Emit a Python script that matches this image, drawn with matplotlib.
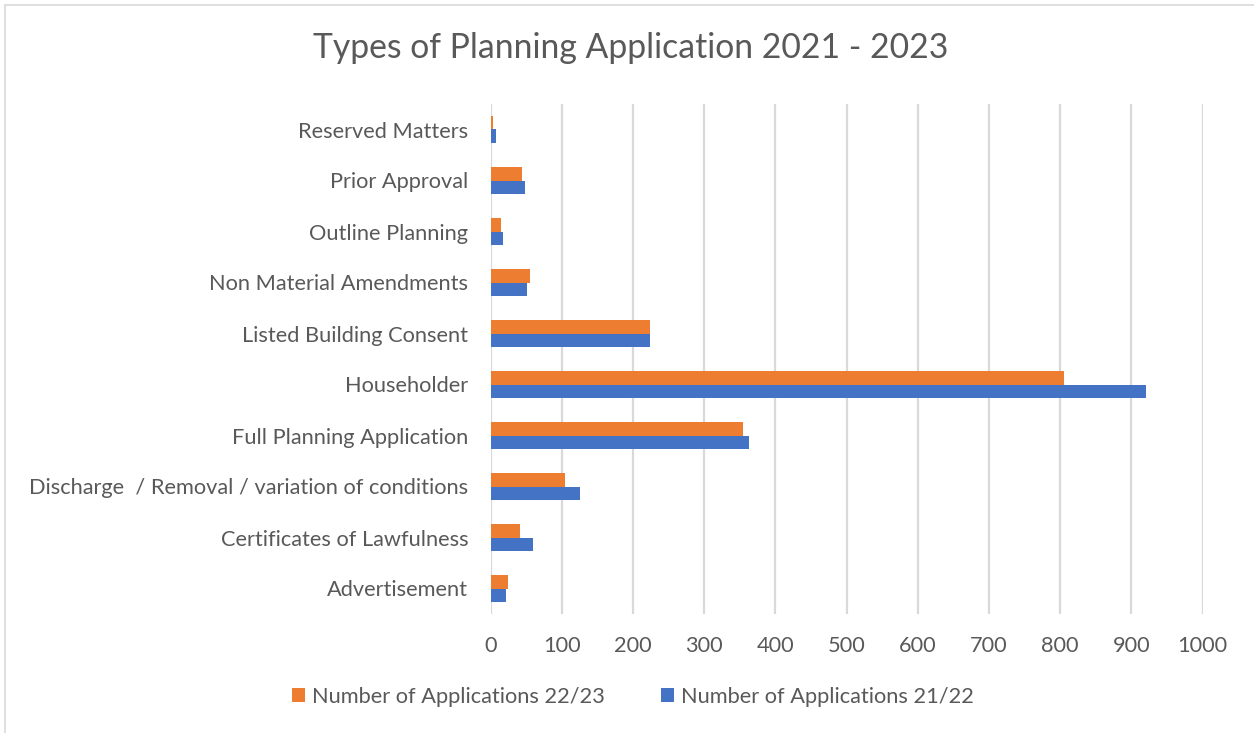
import matplotlib
matplotlib.use("Agg")
import matplotlib.pyplot as plt
from matplotlib.patches import Rectangle
import numpy as np

categories = ["Advertisement", "Certificates of Lawfulness",
              "Discharge  / Removal / variation of conditions",
              "Full Planning Application", "Householder",
              "Listed Building Consent", "Non Material Amendments",
              "Outline Planning", "Prior Approval", "Reserved Matters"]
apps_22_23 = [24, 42, 105, 355, 805, 224, 55, 15, 44, 4]
apps_21_22 = [22, 60, 125, 363, 920, 224, 51, 17, 48, 8]
xticks = [0, 100, 200, 300, 400, 500, 600, 700, 800, 900, 1000]

plt.rcParams['font.family'] = ['Lato', 'DejaVu Sans']
TXT = '#595959'
ORANGE = '#ED7D31'
BLUE = '#4472C4'

fig = plt.figure(figsize=(12.54, 7.33), dpi=100)
# outer frame
fig.patches.append(Rectangle((5/1254, -0.1), 1.2, 1.1 - 5/733, transform=fig.transFigure,
                             fill=False, edgecolor='#d9d9d9', linewidth=1.2))

ax = fig.add_axes([490.5/1254, 1-614/733, 712/1254, 510/733])
y = np.arange(len(categories))
h = 0.265
ax.barh(y + h/2, apps_22_23, height=h, color=ORANGE, label='Number of Applications 22/23', zorder=3)
ax.barh(y - h/2, apps_21_22, height=h, color=BLUE, label='Number of Applications 21/22', zorder=3)

ax.set_xlim(0, 1000)
ax.set_ylim(-0.5, len(categories) - 0.5)
ax.set_xticks(xticks)
ax.set_xticklabels([str(t) for t in xticks])
ax.set_yticks(y)
ax.set_yticklabels(categories)
ax.tick_params(axis='both', length=0, labelsize=15.7, colors=TXT)
ax.tick_params(axis='x', pad=16)
ax.tick_params(axis='y', pad=16)
ax.grid(axis='x', color='#d9d9d9', linewidth=1.6, zorder=0)
for s in ax.spines.values():
    s.set_visible(False)

fig.text(631/1254, 1-48/733, 'Types of Planning Application 2021 - 2023',
         ha='center', va='center', fontsize=24.3, color=TXT)

fig.legend(loc='center', bbox_to_anchor=(633/1254, 1-697/733), ncol=2,
           frameon=False, fontsize=15.7, labelcolor=TXT, handlelength=0.6,
           handleheight=0.6, handletextpad=0.3, columnspacing=2.6)

fig.savefig('out.png', dpi=100)
